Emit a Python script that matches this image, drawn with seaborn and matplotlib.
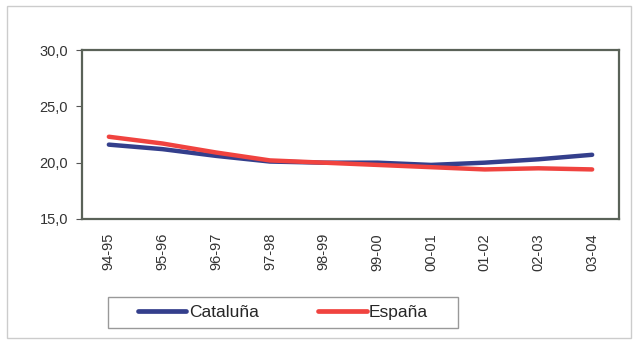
import matplotlib
matplotlib.use("Agg")
import matplotlib.pyplot as plt
import seaborn as sns
import pandas as pd
from matplotlib.patches import Rectangle

categories = ["94-95", "95-96", "96-97", "97-98", "98-99", "99-00", "00-01", "01-02", "02-03", "03-04"]
cataluna = [21.6, 21.2, 20.6, 20.1, 20.0, 20.0, 19.8, 20.0, 20.3, 20.7]
espana = [22.3, 21.7, 20.9, 20.2, 20.0, 19.8, 19.6, 19.4, 19.5, 19.4]
yticks = [15, 20, 25, 30]

df = pd.DataFrame({
    "curso": categories * 2,
    "valor": cataluna + espana,
    "serie": ["Cataluña"] * len(categories) + ["España"] * len(categories),
})

sns.set_style("white")
plt.rcParams["font.family"] = ["Liberation Sans", "DejaVu Sans"]

fig = plt.figure(figsize=(6.38, 3.40), dpi=100)
fig.patch.set_facecolor("white")
ax = fig.add_axes([82 / 638, 1 - 219 / 340, (619 - 82) / 638, (219 - 50) / 340])

palette = {"Cataluña": "#343f8c", "España": "#f0433f"}
sns.lineplot(data=df, x="curso", y="valor", hue="serie", palette=palette,
             linewidth=3.2, ax=ax, sort=False, legend=False,
             solid_capstyle="round", solid_joinstyle="round")

ax.set_xlim(-0.5, len(categories) - 0.5)
ax.set_ylim(15, 30)
ax.set_yticks(yticks)
ax.set_yticklabels([f"{v:.1f}".replace(".", ",") for v in yticks], fontsize=10.5, color="#333333")
ax.set_xticks(range(len(categories)))
ax.set_xticklabels(categories, rotation=90, fontsize=10.5, color="#333333")
ax.set_xlabel("")
ax.set_ylabel("")
ax.tick_params(axis="y", length=4, width=0.8, color="#555555", left=True, pad=6)
ax.tick_params(axis="x", length=0, pad=10)
for s in ax.spines.values():
    s.set_color("#5a6258")
    s.set_linewidth(1.6)

# outer chart border
fig.add_artist(Rectangle((7 / 638, 0.005), 1 - 14 / 638, 1 - 8 / 340, transform=fig.transFigure,
                         fill=False, edgecolor="#cccccc", linewidth=1.0))

# legend box
fig.add_artist(Rectangle((108 / 638, 1 - 328 / 340), (458 - 108) / 638, 31 / 340,
                         transform=fig.transFigure, fill=False, edgecolor="#999999", linewidth=1.0))

handles = [plt.Line2D([], [], color=palette["Cataluña"], lw=3.4, solid_capstyle="round"),
           plt.Line2D([], [], color=palette["España"], lw=3.4, solid_capstyle="round")]
leg = fig.legend(handles, ["Cataluña", "España"], loc="center", ncol=2,
                 bbox_to_anchor=(283 / 638, 1 - 312.5 / 340), fontsize=12.5,
                 frameon=False, handlelength=2.8, handletextpad=0.15,
                 columnspacing=3.4, borderpad=0.3)

fig.savefig("out.png", dpi=100, facecolor="white")
